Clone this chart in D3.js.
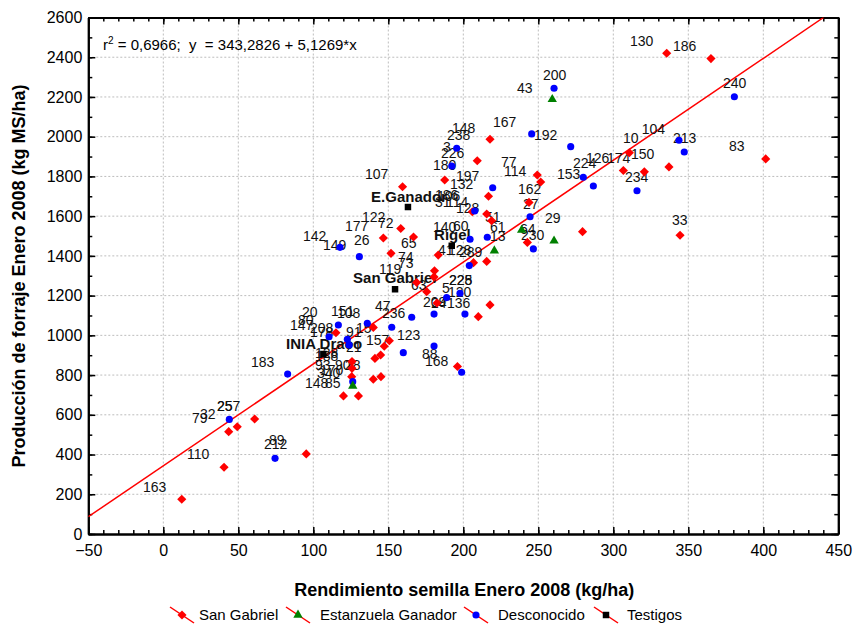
<!DOCTYPE html>
<html>
<head>
<meta charset="utf-8">
<script src="https://cdn.jsdelivr.net/npm/d3@7"></script>
<style>
  body { margin: 0; background: #fff; }
  text { font-family: "Liberation Sans", Arial, sans-serif; }
</style>
</head>
<body>
<svg id="chart" width="853" height="625"></svg>
<script>
// ---- data ----
// series points are [rendimiento semilla, produccion forraje]
const sanGabriel = [
  [335.6, 2420], [365.1, 2393], [401.6, 1888], [310.7, 1919], [306.7, 1830],
  [320.7, 1823], [337.1, 1848], [344.5, 1504], [279.5, 1522], [217.8, 1987],
  [209.3, 1879], [159.5, 1748], [187.6, 1782], [249.3, 1807], [251.6, 1772],
  [216.8, 1700], [206, 1622], [215.6, 1611], [218.9, 1577], [243.8, 1669],
  [158.3, 1538], [146.7, 1490], [166.8, 1495], [242.7, 1468], [151.8, 1413],
  [183.3, 1404], [206.8, 1366], [215.6, 1372], [180.8, 1325], [180.5, 1294],
  [168.9, 1266], [175.6, 1220], [182.5, 1163], [217.8, 1153], [210, 1094],
  [140, 1040], [115.1, 1013], [150.7, 973], [147.3, 945], [144.9, 901],
  [141.1, 884], [125.8, 868], [125.8, 834], [125.6, 792], [140, 779],
  [145.1, 792], [120.1, 695], [130.1, 695], [196.1, 843], [60.9, 579],
  [43.6, 515], [49.3, 540], [40.5, 336], [12.3, 175], [95.3, 403]
];
const estanzuela = [
  [259.3, 2188], [220.7, 1426], [238.9, 1530], [260.5, 1476], [126.3, 745]
];
const desconocido = [
  [260.5, 2244], [380.7, 2201], [245.6, 2014], [271.6, 1950], [343.8, 1982],
  [347.3, 1923], [315.8, 1728], [280, 1796], [286.7, 1752], [195.6, 1942],
  [192.3, 1852], [219.6, 1743], [207.6, 1626], [244.5, 1597], [117.8, 1443],
  [130.7, 1396], [204.5, 1484], [216, 1494], [246.7, 1435], [204, 1351],
  [197.8, 1212], [188.9, 1190], [180.5, 1107], [201.1, 1107], [165.6, 1091],
  [152.3, 1041], [136, 1061], [116.7, 1052], [110.5, 993], [122.7, 980],
  [123.8, 951], [160, 913], [180.5, 946], [198.9, 814], [82.9, 805],
  [126.3, 767], [44, 577], [74.5, 381]
];
const testigos = [
  [163.1, 1646], [192.3, 1451], [154.5, 1232], [106.7, 906]
];

// point labels: [text, x, y] anchor of the text in data units
const pointLabels = [
  ["130", 311.1, 2457], ["186", 339.8, 2431], ["240", 373.1, 2245], ["200", 253.1, 2285],
  ["43", 235.8, 2220], ["167", 219.8, 2049], ["148", 192.5, 2019], ["238", 189.1, 1983],
  ["192", 247.1, 1983], ["104", 319, 2014], ["10", 306.5, 1968], ["213", 339.8, 1968],
  ["83", 377.1, 1928], ["150", 311.8, 1888], ["174", 295.8, 1868], ["126", 281.8, 1868],
  ["224", 273.1, 1842], ["153", 262.5, 1787], ["234", 307.8, 1772], ["33", 339.1, 1556],
  ["162", 236.5, 1712], ["27", 239.8, 1636], ["29", 254.5, 1566], ["64", 237.8, 1510],
  ["230", 238.5, 1480], ["77", 225.1, 1847], ["114", 227.1, 1802], ["3", 186.5, 1923],
  ["226", 185.1, 1893], ["180", 179.8, 1832], ["107", 134.5, 1787], ["197", 195.1, 1777],
  ["132", 191.1, 1737], ["186", 181.1, 1681], ["106", 182.5, 1676], ["31", 181.1, 1646],
  ["114", 188.5, 1646], ["128", 195.1, 1616], ["51", 214.5, 1571], ["122", 132.5, 1571],
  ["177", 121.1, 1525], ["72", 143.1, 1540], ["142", 93.1, 1475], ["149", 106.5, 1430],
  ["26", 127.1, 1455], ["65", 158.5, 1440], ["140", 179.8, 1520], ["60", 193.1, 1525],
  ["61", 217.8, 1520], ["13", 217.8, 1475], ["41", 183.1, 1404], ["128", 189.8, 1404],
  ["289", 197.1, 1394], ["74", 156.5, 1369], ["73", 156.5, 1339], ["119", 143.8, 1309],
  ["228", 190.5, 1253], ["225", 190.5, 1253], ["63", 165.1, 1228], ["5", 185.8, 1213],
  ["120", 189.8, 1193], ["47", 141.1, 1123], ["236", 145.8, 1087], ["209", 173.1, 1143],
  ["24", 178.5, 1138], ["136", 189.1, 1138], ["20", 92.5, 1092], ["80", 89.8, 1052],
  ["147", 84.5, 1027], ["151", 111.8, 1097], ["108", 115.8, 1087], ["208", 97.8, 1012],
  ["178", 97.8, 992], ["91", 121.8, 992], ["15", 128.5, 1012], ["157", 135.1, 951],
  ["123", 155.8, 977], ["21", 121.8, 916], ["128", 101.1, 886], ["188", 101.1, 871],
  ["93", 101.1, 826], ["90", 114.5, 826], ["28", 121.1, 826], ["170", 104.5, 800],
  ["340", 102.5, 785], ["148", 94.5, 735], ["85", 107.8, 735], ["88", 172.5, 881],
  ["168", 174.5, 846], ["183", 58.5, 841], ["163", -13.5, 211], ["110", 15.8, 378],
  ["79", 19.1, 559], ["32", 24.5, 579], ["25", 35.8, 619], ["257", 35.8, 619],
  ["89", 70.5, 448], ["212", 67.1, 428]
];
// bold labels of the check varieties
const testigoLabels = [
  ["E.Ganador", 138.5, 1671], ["Rigel", 180.5, 1480],
  ["San Gabriel", 126.5, 1264], ["INIA Draco", 81.8, 931]
];

const xTicks = [-50, 0, 50, 100, 150, 200, 250, 300, 350, 400, 450];
const yTicks = [0, 200, 400, 600, 800, 1000, 1200, 1400, 1600, 1800, 2000, 2200, 2400, 2600];
const xMinor = d3.range(-50, 451, 10);
const yMinor = d3.range(0, 2601, 100);

// regression fit
const intercept = 343.2826;
const slope = 5.1269;
const r2 = "0,6966";

const legendNames = ["San Gabriel", "Estanzuela Ganador", "Desconocido", "Testigos"];

// ---- drawing ----
const svg = d3.select("#chart");
const plotLeft = 88.3, plotRight = 838.3, plotTop = 17.5, plotBottom = 534;

const x = d3.scaleLinear().domain([-50, 450]).range([plotLeft, plotRight]);
const y = d3.scaleLinear().domain([0, 2600]).range([plotBottom, plotTop]);

svg.append("defs").append("clipPath").attr("id", "plot-clip")
  .append("rect")
  .attr("x", plotLeft).attr("y", plotTop)
  .attr("width", plotRight - plotLeft).attr("height", plotBottom - plotTop);

// grid lines
const grid = svg.append("g").attr("stroke", "#bdbdbd").attr("stroke-dasharray", "2,2");
grid.selectAll(".gx").data(xTicks.slice(1, -1)).enter().append("line")
  .attr("x1", d => x(d)).attr("x2", d => x(d))
  .attr("y1", plotTop).attr("y2", plotBottom);
grid.selectAll(".gy").data(yTicks.slice(1, -1)).enter().append("line")
  .attr("x1", plotLeft).attr("x2", plotRight)
  .attr("y1", d => y(d)).attr("y2", d => y(d));

// axes, ticks point inward on all four sides
function styleAxis(g) {
  g.select(".domain").attr("stroke", "#000").attr("stroke-width", 2);
  g.selectAll(".tick line").attr("stroke", "#000").attr("stroke-width", 1.5);
  g.selectAll(".tick text").attr("fill", "#000")
    .style("font-family", "'Liberation Sans', Arial, sans-serif").style("font-size", "16px");
}
const plain = d3.format("d");

svg.append("g").attr("transform", `translate(0,${plotBottom})`)
  .call(d3.axisBottom(x).tickValues(xMinor).tickSizeInner(-4).tickSizeOuter(0).tickFormat(""))
  .call(styleAxis);
svg.append("g").attr("transform", `translate(0,${plotBottom})`)
  .call(d3.axisBottom(x).tickValues(xTicks).tickSizeInner(-7).tickSizeOuter(0).tickPadding(11).tickFormat(plain))
  .call(styleAxis);
svg.append("g").attr("transform", `translate(0,${plotTop})`)
  .call(d3.axisTop(x).tickValues(xMinor).tickSizeInner(-4).tickSizeOuter(0).tickFormat(""))
  .call(styleAxis);
svg.append("g").attr("transform", `translate(0,${plotTop})`)
  .call(d3.axisTop(x).tickValues(xTicks).tickSizeInner(-7).tickSizeOuter(0).tickFormat(""))
  .call(styleAxis);

svg.append("g").attr("transform", `translate(${plotLeft},0)`)
  .call(d3.axisLeft(y).tickValues(yMinor).tickSizeInner(-4).tickSizeOuter(0).tickFormat(""))
  .call(styleAxis);
svg.append("g").attr("transform", `translate(${plotLeft},0)`)
  .call(d3.axisLeft(y).tickValues(yTicks).tickSizeInner(-7).tickSizeOuter(0).tickPadding(6).tickFormat(plain))
  .call(styleAxis);
svg.append("g").attr("transform", `translate(${plotRight},0)`)
  .call(d3.axisRight(y).tickValues(yMinor).tickSizeInner(-4).tickSizeOuter(0).tickFormat(""))
  .call(styleAxis);
svg.append("g").attr("transform", `translate(${plotRight},0)`)
  .call(d3.axisRight(y).tickValues(yTicks).tickSizeInner(-7).tickSizeOuter(0).tickFormat(""))
  .call(styleAxis);

// regression line
const xEnd = (2600 - intercept) / slope;
svg.append("line")
  .attr("clip-path", "url(#plot-clip)")
  .attr("x1", x(-50)).attr("y1", y(intercept + slope * -50))
  .attr("x2", x(xEnd)).attr("y2", y(intercept + slope * xEnd))
  .attr("stroke", "#ff0000").attr("stroke-width", 1.5);

// point labels
const labels = svg.append("g")
  .style("font-size", "14px").attr("fill", "#111");
labels.selectAll("text").data(pointLabels).enter().append("text")
  .attr("x", d => x(d[1])).attr("y", d => y(d[2]))
  .text(d => d[0]);
svg.append("g")
  .style("font-size", "15px").style("font-weight", "bold").attr("fill", "#111")
  .selectAll("text").data(testigoLabels).enter().append("text")
  .attr("x", d => x(d[1])).attr("y", d => y(d[2]))
  .text(d => d[0]);

// markers (diamond = square turned 45 degrees)
const diamond = d3.symbol().type(d3.symbolSquare).size(42);
const triangle = d3.symbol().type(d3.symbolTriangle).size(38);
const circle = d3.symbol().type(d3.symbolCircle).size(40);
const square = d3.symbol().type(d3.symbolSquare).size(42);

function drawSeries(data, shape, color, turn) {
  svg.append("g").selectAll("path").data(data).enter().append("path")
    .attr("d", shape)
    .attr("transform", d => `translate(${x(d[0])},${y(d[1])}) rotate(${turn})`)
    .attr("fill", color);
}
drawSeries(sanGabriel, diamond, "#ff0000", 45);
drawSeries(desconocido, circle, "#0000ff", 0);
drawSeries(estanzuela, triangle, "#008000", 0);
drawSeries(testigos, square, "#000", 0);

// fit text
const fit = svg.append("text").attr("x", 103).attr("y", 50)
  .attr("xml:space", "preserve")
  .style("font-size", "15px").attr("fill", "#000");
fit.append("tspan").text("r");
fit.append("tspan").attr("dy", -6).style("font-size", "10px").text("2");
fit.append("tspan").attr("dy", 6).text(` = ${r2};  y  = 343,2826 + 5,1269*x`);

// axis titles
svg.append("text")
  .attr("x", (plotLeft + plotRight) / 2 + 1).attr("y", 596)
  .attr("text-anchor", "middle")
  .style("font-size", "18px").style("font-weight", "bold")
  .text("Rendimiento semilla Enero 2008 (kg/ha)");
svg.append("text")
  .attr("transform", "translate(25,276) rotate(-90)")
  .attr("text-anchor", "middle")
  .style("font-size", "18px").style("font-weight", "bold")
  .text("Producción de forraje Enero 2008 (kg MS/ha)");

// legend
const legendX = [182, 298, 476, 606];
const legendTextX = [199, 320, 498, 627];
const legendShapes = [diamond, triangle, circle, square];
const legendTurn = [45, 0, 0, 0];
const legendColors = ["#ff0000", "#008000", "#0000ff", "#000"];
const ly = 615;
const legend = svg.append("g");
legendNames.forEach((name, i) => {
  legend.append("line")
    .attr("x1", legendX[i] - 12).attr("y1", ly - 8)
    .attr("x2", legendX[i] + 12).attr("y2", ly + 8)
    .attr("stroke", "#ff0000").attr("stroke-width", 1.5);
  legend.append("path")
    .attr("d", legendShapes[i])
    .attr("transform", `translate(${legendX[i]},${ly}) rotate(${legendTurn[i]})`)
    .attr("fill", legendColors[i]);
  legend.append("text")
    .attr("x", legendTextX[i]).attr("y", ly + 5)
    .style("font-size", "15px")
    .text(name);
});
</script>
</body>
</html>
